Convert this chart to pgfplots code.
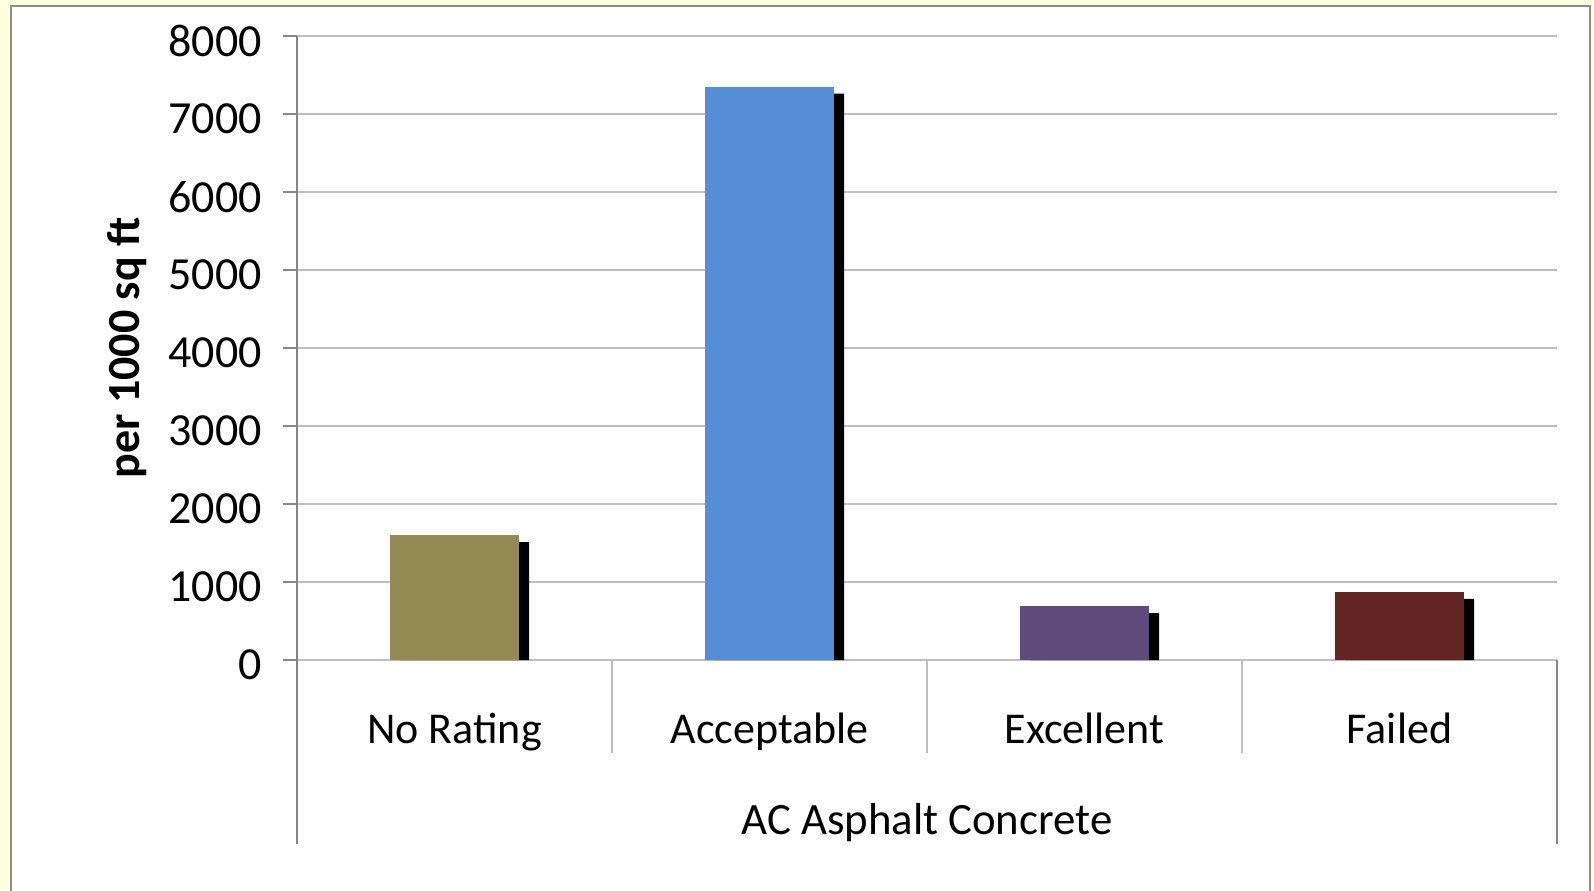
\documentclass[border=0pt]{standalone}
\usepackage{pgfplots}
\pgfplotsset{compat=1.18}
\usepackage{fontspec}
\setmainfont{Carlito}
\definecolor{bgyellow}{RGB}{255,255,224}
\definecolor{panelgray}{RGB}{140,140,140}
\definecolor{gridgray}{RGB}{190,190,190}
\definecolor{axgray}{RGB}{134,134,134}
\definecolor{cOlive}{RGB}{148,138,84}
\definecolor{cBlue}{RGB}{85,142,213}
\definecolor{cPurple}{RGB}{96,74,123}
\definecolor{cRed}{RGB}{99,37,35}
\begin{document}
\begin{tikzpicture}
\useasboundingbox (-148.5pt,-115pt) rectangle (648.5pt,330pt);
\fill[bgyellow] (-148.5pt,-115pt) rectangle (648.5pt,330pt);
\filldraw[fill=white, draw=panelgray, line width=1pt] (-143pt,-130pt) rectangle (646.5pt,327pt);
\begin{axis}[
  width=630pt, height=312pt, scale only axis,
  xmin=-0.5, xmax=3.5, ymin=0, ymax=8000,
  axis x line=bottom, axis y line=left,
  x axis line style={-, draw=gridgray, line width=1pt},
  y axis line style={-, draw=axgray, line width=0.8pt},
  ymajorgrids, grid style={draw=gridgray, line width=0.8pt},
  ytick={0,1000,...,8000},
  tick align=outside, major tick length=7pt,
  y tick style={draw=axgray, line width=0.8pt},
  x tick style={draw=none},
  xtick={0,1,2,3},
  xticklabels={No Rating, Acceptable, Excellent, Failed},
  /pgf/number format/assume math mode=true,
  /pgf/number format/1000 sep={},
  yticklabel style={font=\fontsize{23}{27}\selectfont, xshift=-7pt, yshift=-2.5pt},
  xticklabel style={font=\fontsize{22}{26}\selectfont, anchor=base, yshift=-34.5pt},
  xlabel={AC Asphalt Concrete},
  xlabel style={font=\fontsize{22.4}{26}\selectfont, at={(axis description cs:0.5,-0.26)}, anchor=center},
  ylabel={per 1000 sq ft},
  ylabel style={font=\fontsize{23}{27}\selectfont\bfseries, at={(axis description cs:-0.135,0.5)}, anchor=center},
  ybar, bar width=64.5pt,
  clip=false,
]
\addplot[fill=black, draw=none, bar shift=5pt] coordinates {(0,1510) (1,7260) (2,600) (3,785)};
\addplot[fill=cOlive, draw=none, bar shift=0pt] coordinates {(0,1600)};
\addplot[fill=cBlue, draw=none, bar shift=0pt] coordinates {(1,7350)};
\addplot[fill=cPurple, draw=none, bar shift=0pt] coordinates {(2,690)};
\addplot[fill=cRed, draw=none, bar shift=0pt] coordinates {(3,875)};
\draw[axgray, line width=0.8pt] (axis cs:-0.5,0) -- ++(0pt,-92pt);
\draw[axgray, line width=0.8pt] (axis cs:3.5,0) -- ++(0pt,-92pt);
\draw[gridgray, line width=0.8pt] (axis cs:0.5,0) -- ++(0pt,-46.5pt);
\draw[gridgray, line width=0.8pt] (axis cs:1.5,0) -- ++(0pt,-46.5pt);
\draw[gridgray, line width=0.8pt] (axis cs:2.5,0) -- ++(0pt,-46.5pt);
\end{axis}
\end{tikzpicture}
\end{document}
